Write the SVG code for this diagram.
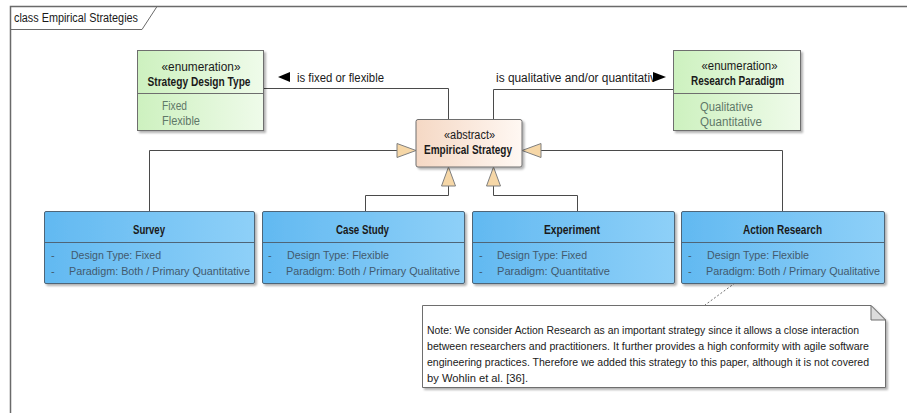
<svg xmlns="http://www.w3.org/2000/svg" width="907" height="413" viewBox="0 0 907 413">
<defs>
<linearGradient id="gGreen" x1="0" y1="0" x2="1" y2="0"><stop offset="0" stop-color="#cdf1bf"/><stop offset="1" stop-color="#effbea"/></linearGradient>
<linearGradient id="gPeach" x1="0" y1="0" x2="1" y2="0"><stop offset="0" stop-color="#f5d8c4"/><stop offset="1" stop-color="#fff8f3"/></linearGradient>
<linearGradient id="gBlue" x1="0" y1="0" x2="1" y2="0"><stop offset="0" stop-color="#62b9f1"/><stop offset="1" stop-color="#8ed0f8"/></linearGradient>
<filter id="sh" x="-5%" y="-5%" width="115%" height="125%"><feDropShadow dx="2" dy="2" stdDeviation="1.2" flood-color="#000" flood-opacity="0.3"/></filter>
<style>
text{font-family:"Liberation Sans",Arial,sans-serif;font-size:12px;fill:#1a1a1a}
.b{font-weight:bold}
.c{text-anchor:middle}
.lit{fill:#5f7868}
.att{fill:#425a6e;font-size:11px}
.nt{font-size:11px}
.box{stroke:#6e6e6e;stroke-width:1}
.bbox{stroke:#4f6577;stroke-width:1}
.ln{fill:none;stroke:#4a4a4a;stroke-width:1}
.tri{fill:#f6d7a7;stroke:#7f7f7f;stroke-width:1}
</style>
</defs>
<rect width="907" height="413" fill="#ffffff"/>
<g id="frame">
<path d="M10.5,413 V6.5 H907" fill="none" stroke="#6a6a6a" stroke-width="1.5"/>
<path d="M10.5,29.5 H142 L157,6.5" fill="none" stroke="#6a6a6a" stroke-width="1"/>
<text x="14" y="21.5" textLength="124" lengthAdjust="spacingAndGlyphs">class Empirical Strategies</text>
</g>
<g id="connectors">
<path class="ln" d="M264,88.5 H448.5 V119"/>
<path class="ln" d="M493.5,119 V89.5 H673"/>
<polygon points="278,77 290,72 290,82" fill="#000"/>
<text x="297" y="81.5" textLength="87" lengthAdjust="spacingAndGlyphs">is fixed or flexible</text>
<text x="496" y="81.5" textLength="160" lengthAdjust="spacingAndGlyphs">is qualitative and/or quantitativ</text>
<polygon points="653,72 666,77 653,82" fill="#000"/>
<path class="ln" d="M149.5,211 V150.5 H397"/>
<path class="ln" d="M782.5,211 V150.5 H541"/>
<path class="ln" d="M365.5,211 V195.5 H448.5 V186"/>
<path class="ln" d="M577.5,211 V195.5 H493.5 V186"/>
<polygon class="tri" points="416,150.5 397,143.5 397,157.5"/>
<polygon class="tri" points="522,150.5 541,143.5 541,157.5"/>
<polygon class="tri" points="448.5,167 441.5,186 455.5,186"/>
<polygon class="tri" points="493.5,167 486.5,186 500.5,186"/>
<path d="M735,283 L705,305" fill="none" stroke="#707070" stroke-width="1" stroke-dasharray="2,2"/>
</g>
<g id="strategyDesignType">
<rect class="box" x="137.5" y="50.5" width="126" height="80" fill="url(#gGreen)" filter="url(#sh)"/>
<line x1="137.5" y1="93.5" x2="263.5" y2="93.5" stroke="#6e6e6e"/>
<text class="c" x="201" y="70.5" textLength="79" lengthAdjust="spacingAndGlyphs">«enumeration»</text>
<text class="c b" x="199" y="85.5" textLength="103" lengthAdjust="spacingAndGlyphs">Strategy Design Type</text>
<text class="lit" x="162" y="109.5" textLength="25" lengthAdjust="spacingAndGlyphs">Fixed</text>
<text class="lit" x="162" y="125" textLength="38" lengthAdjust="spacingAndGlyphs">Flexible</text>
</g>
<g id="researchParadigm">
<rect class="box" x="673.5" y="50.5" width="127" height="80" fill="url(#gGreen)" filter="url(#sh)"/>
<line x1="673.5" y1="93.5" x2="800.5" y2="93.5" stroke="#6e6e6e"/>
<text class="c" x="739.5" y="69.5" textLength="76" lengthAdjust="spacingAndGlyphs">«enumeration»</text>
<text class="c b" x="737.5" y="84.5" textLength="93" lengthAdjust="spacingAndGlyphs">Research Paradigm</text>
<text class="lit" x="700" y="110.5" textLength="53" lengthAdjust="spacingAndGlyphs">Qualitative</text>
<text class="lit" x="700" y="125.5" textLength="62" lengthAdjust="spacingAndGlyphs">Quantitative</text>
</g>
<g id="empiricalStrategy">
<rect class="box" x="416" y="119.5" width="106" height="47.5" rx="2" fill="url(#gPeach)" filter="url(#sh)"/>
<text class="c" x="469.5" y="138.5" textLength="51" lengthAdjust="spacingAndGlyphs">«abstract»</text>
<text class="c b" x="468" y="153.5" textLength="88" lengthAdjust="spacingAndGlyphs">Empirical Strategy</text>
</g>
<g id="survey">
<rect class="bbox" x="44.5" y="211.5" width="210" height="72" rx="1.5" fill="url(#gBlue)" filter="url(#sh)"/>
<line x1="44.5" y1="242.5" x2="254.5" y2="242.5" stroke="#4f6577"/>
<text class="c b" x="149" y="233.5" textLength="32" lengthAdjust="spacingAndGlyphs">Survey</text>
<text class="att" x="51" y="258.5">-</text>
<text class="att" x="51" y="274.5">-</text>
<text class="att" x="71" y="258.5" textLength="90" lengthAdjust="spacingAndGlyphs">Design Type: Fixed</text>
<text class="att" x="69" y="274.5" textLength="181" lengthAdjust="spacingAndGlyphs">Paradigm: Both / Primary Quantitative</text>
</g>
<g id="caseStudy">
<rect class="bbox" x="262.5" y="211.5" width="202" height="72" rx="1.5" fill="url(#gBlue)" filter="url(#sh)"/>
<line x1="262.5" y1="242.5" x2="464.5" y2="242.5" stroke="#4f6577"/>
<text class="c b" x="362.5" y="233.5" textLength="53" lengthAdjust="spacingAndGlyphs">Case Study</text>
<text class="att" x="268" y="258.5">-</text>
<text class="att" x="268" y="274.5">-</text>
<text class="att" x="287" y="258.5" textLength="102" lengthAdjust="spacingAndGlyphs">Design Type: Flexible</text>
<text class="att" x="286" y="274.5" textLength="174" lengthAdjust="spacingAndGlyphs">Paradigm: Both / Primary Qualitative</text>
</g>
<g id="experiment">
<rect class="bbox" x="472.5" y="211.5" width="202" height="72" rx="1.5" fill="url(#gBlue)" filter="url(#sh)"/>
<line x1="472.5" y1="242.5" x2="674.5" y2="242.5" stroke="#4f6577"/>
<text class="c b" x="572" y="233.5" textLength="56" lengthAdjust="spacingAndGlyphs">Experiment</text>
<text class="att" x="479" y="258.5">-</text>
<text class="att" x="479" y="274.5">-</text>
<text class="att" x="497" y="258.5" textLength="90" lengthAdjust="spacingAndGlyphs">Design Type: Fixed</text>
<text class="att" x="497" y="274.5" textLength="113" lengthAdjust="spacingAndGlyphs">Paradigm: Quantitative</text>
</g>
<g id="actionResearch">
<rect class="bbox" x="681.5" y="211.5" width="203" height="72" rx="1.5" fill="url(#gBlue)" filter="url(#sh)"/>
<line x1="681.5" y1="242.5" x2="884.5" y2="242.5" stroke="#4f6577"/>
<text class="c b" x="782.5" y="233.5" textLength="79" lengthAdjust="spacingAndGlyphs">Action Research</text>
<text class="att" x="688" y="258.5">-</text>
<text class="att" x="688" y="274.5">-</text>
<text class="att" x="707" y="258.5" textLength="102" lengthAdjust="spacingAndGlyphs">Design Type: Flexible</text>
<text class="att" x="706" y="274.5" textLength="174" lengthAdjust="spacingAndGlyphs">Paradigm: Both / Primary Qualitative</text>
</g>
<g id="note">
<path d="M422.5,305.5 H871 L885.5,320 V387.5 H422.5 Z" fill="#ffffff" stroke="#6e6e6e" filter="url(#sh)"/>
<path d="M871,305.5 V320 H885.5 Z" fill="#dcdcdc" stroke="#6e6e6e"/>
<text class="nt" x="427" y="333.5" textLength="432" lengthAdjust="spacingAndGlyphs">Note: We consider Action Research as an important strategy since it allows a close interaction</text>
<text class="nt" x="427" y="349.5" textLength="442" lengthAdjust="spacingAndGlyphs">between researchers and practitioners. It further provides a high conformity with agile software</text>
<text class="nt" x="427" y="365.5" textLength="442" lengthAdjust="spacingAndGlyphs">engineering practices. Therefore we added this strategy to this paper, although it is not covered</text>
<text class="nt" x="427" y="381.5" textLength="101" lengthAdjust="spacingAndGlyphs">by Wohlin et al. [36].</text>
</g>
</svg>
